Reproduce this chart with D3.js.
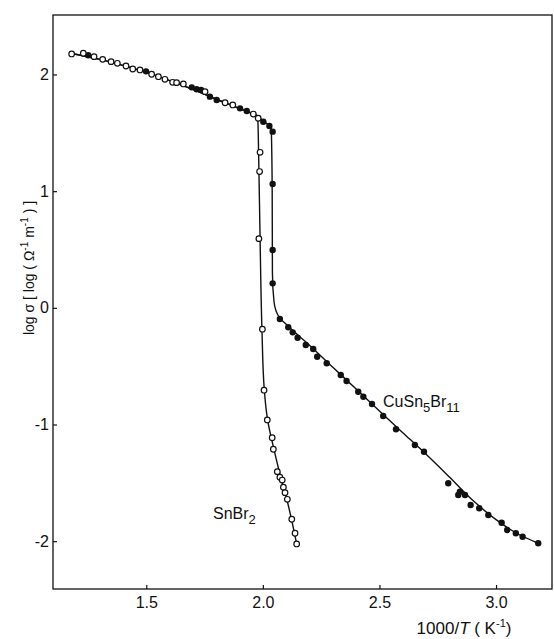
<!DOCTYPE html>
<html>
<head>
<meta charset="utf-8">
<script src="https://cdn.jsdelivr.net/npm/d3@7"></script>
<style>
  body { margin: 0; background: #fff; }
  svg { display: block; }
  text, tspan { font-family: "Liberation Sans Narrow", "Arial Narrow", "Liberation Sans", sans-serif; fill: #111; }
</style>
</head>
<body>
<div id="chart"></div>
<script>
// measured points, [1000/T, log sigma]
const snbr2Points = [
    [1.180, 2.176], [1.230, 2.182], [1.276, 2.153], [1.313, 2.130], [1.349, 2.110],
    [1.376, 2.096], [1.413, 2.073], [1.442, 2.047], [1.473, 2.039], [1.523, 2.002],
    [1.552, 1.981], [1.580, 1.959], [1.613, 1.933], [1.630, 1.930], [1.659, 1.919],
    [1.752, 1.853], [1.838, 1.758], [1.871, 1.739], [1.959, 1.661], [1.980, 1.625],
    [1.988, 1.333], [1.986, 1.168], [1.983, 0.593], [1.998, -0.183], [2.005, -0.706],
    [2.019, -0.961], [2.040, -1.113], [2.045, -1.212], [2.062, -1.404], [2.073, -1.452],
    [2.083, -1.476], [2.088, -1.538], [2.095, -1.584], [2.105, -1.641], [2.124, -1.812],
    [2.138, -1.932], [2.145, -2.024]
];

const cuPoints = [
    [1.251, 2.165], [1.499, 2.027], [1.695, 1.890], [1.716, 1.873], [1.735, 1.867],
    [1.773, 1.810], [1.802, 1.781], [1.902, 1.710], [1.931, 1.687], [2.002, 1.595],
    [2.028, 1.559], [2.042, 1.510], [2.042, 1.061], [2.042, 0.496], [2.042, 0.210],
    [2.073, -0.096], [2.109, -0.167], [2.128, -0.210], [2.149, -0.256], [2.184, -0.319],
    [2.216, -0.353], [2.233, -0.419], [2.274, -0.475], [2.334, -0.576], [2.359, -0.627],
    [2.409, -0.719], [2.431, -0.762], [2.468, -0.824], [2.516, -0.927], [2.571, -1.041],
    [2.652, -1.176], [2.691, -1.233], [2.795, -1.504], [2.838, -1.604], [2.845, -1.576],
    [2.867, -1.604], [2.891, -1.690], [2.928, -1.718], [2.967, -1.776], [3.024, -1.842],
    [3.048, -1.904], [3.085, -1.932], [3.114, -1.962], [3.181, -2.018]
];

// drawn fit curves
const snbr2Fit = [
    [1.180, 2.180], [1.300, 2.130], [1.400, 2.078], [1.500, 2.018], [1.600, 1.948],
    [1.700, 1.872], [1.800, 1.788], [1.900, 1.708], [1.978, 1.640], [1.982, 1.300],
    [1.988, 0.600], [1.996, -0.180], [2.006, -0.700], [2.022, -0.980], [2.045, -1.190],
    [2.075, -1.440], [2.105, -1.660], [2.145, -2.024]
];

const cuFit = [
    [1.180, 2.180], [1.300, 2.130], [1.400, 2.078], [1.500, 2.018], [1.600, 1.948],
    [1.700, 1.872], [1.800, 1.788], [1.900, 1.708], [1.978, 1.640], [2.010, 1.590],
    [2.036, 1.545], [2.040, 1.000], [2.041, 0.300], [2.048, 0.050], [2.070, -0.080],
    [2.110, -0.160], [2.200, -0.320], [2.300, -0.510], [2.400, -0.695], [2.500, -0.885],
    [2.600, -1.070], [2.700, -1.255], [2.800, -1.450], [2.900, -1.650], [3.000, -1.815],
    [3.100, -1.945], [3.181, -2.018]
];

const xTicks = [1.5, 2.0, 2.5, 3.0];
const yTicks = [-2, -1, 0, 1, 2];

const width = 554, height = 639;
const margin = { left: 53, top: 15, right: 2, bottom: 50 };

const svg = d3.select('#chart').append('svg')
    .attr('width', width)
    .attr('height', height);

const x = d3.scaleLinear().domain([1.1, 3.24]).range([margin.left, width - margin.right]);
const y = d3.scaleLinear().domain([-2.41, 2.51]).range([height - margin.bottom, margin.top]);

// frame
svg.append('rect')
    .attr('x', x.range()[0]).attr('y', y.range()[1])
    .attr('width', x.range()[1] - x.range()[0])
    .attr('height', y.range()[0] - y.range()[1])
    .attr('fill', 'none').attr('stroke', '#111').attr('stroke-width', 1.3);

const xAxis = svg.append('g')
    .attr('transform', `translate(0,${y.range()[0]})`)
    .call(d3.axisBottom(x).tickValues(xTicks).tickSize(-4).tickPadding(8).tickFormat(d3.format('.1f')));
const yAxis = svg.append('g')
    .attr('transform', `translate(${x.range()[0]},0)`)
    .call(d3.axisLeft(y).tickValues(yTicks).tickSize(-4).tickPadding(4).tickFormat(d => d));

[xAxis, yAxis].forEach(g => {
    g.select('.domain').remove();
    g.selectAll('.tick line').attr('stroke', '#111').attr('stroke-width', 1.2);
    g.selectAll('.tick text').style('font-size', '16px').attr('fill', '#111');
});

// curves - y falls steadily along each path, so a monotone-in-y curve avoids overshoot at the corners
const line = d3.line()
    .x(d => x(d[0]))
    .y(d => y(d[1]))
    .curve(d3.curveMonotoneY);

[snbr2Fit, cuFit].forEach(fit => {
    svg.append('path')
        .datum(fit.slice().reverse())
        .attr('d', line)
        .attr('fill', 'none')
        .attr('stroke', '#111')
        .attr('stroke-width', 1.4);
});

// markers
svg.append('g').selectAll('circle')
    .data(cuPoints)
    .join('circle')
    .attr('cx', d => x(d[0]))
    .attr('cy', d => y(d[1]))
    .attr('r', 3.2)
    .attr('fill', '#111');

svg.append('g').selectAll('circle')
    .data(snbr2Points)
    .join('circle')
    .attr('cx', d => x(d[0]))
    .attr('cy', d => y(d[1]))
    .attr('r', 2.8)
    .attr('fill', '#fff')
    .attr('stroke', '#111')
    .attr('stroke-width', 1.2);

// series labels
const cuLabel = svg.append('text')
    .attr('x', 383).attr('y', 407)
    .style('font-size', '16px');
cuLabel.append('tspan').text('CuSn');
cuLabel.append('tspan').attr('dy', 5).style('font-size', '13px').text('5');
cuLabel.append('tspan').attr('dy', -5).text('Br');
cuLabel.append('tspan').attr('dy', 5).style('font-size', '13px').text('11');

const snLabel = svg.append('text')
    .attr('x', 213).attr('y', 519)
    .style('font-size', '16px');
snLabel.append('tspan').text('SnBr');
snLabel.append('tspan').attr('dy', 5).style('font-size', '13px').text('2');

// axis titles
const xTitle = svg.append('text')
    .attr('x', 464).attr('y', 634)
    .attr('text-anchor', 'middle')
    .style('font-size', '17px');
xTitle.append('tspan').text('1000/');
xTitle.append('tspan').style('font-style', 'italic').text('T');
xTitle.append('tspan').text(' ( K');
xTitle.append('tspan').attr('dy', -7).style('font-size', '11px').text('-1');
xTitle.append('tspan').attr('dy', 7).text(')');

const yTitle = svg.append('text')
    .attr('transform', 'translate(34,268) rotate(-90)')
    .attr('text-anchor', 'middle')
    .style('font-size', '14px');
yTitle.append('tspan').text('log σ [ log ( Ω');
yTitle.append('tspan').attr('dy', -6).style('font-size', '10px').text('-1');
yTitle.append('tspan').attr('dy', 6).text(' m');
yTitle.append('tspan').attr('dy', -6).style('font-size', '10px').text('-1');
yTitle.append('tspan').attr('dy', 6).text(' ) ]');
</script>
</body>
</html>
